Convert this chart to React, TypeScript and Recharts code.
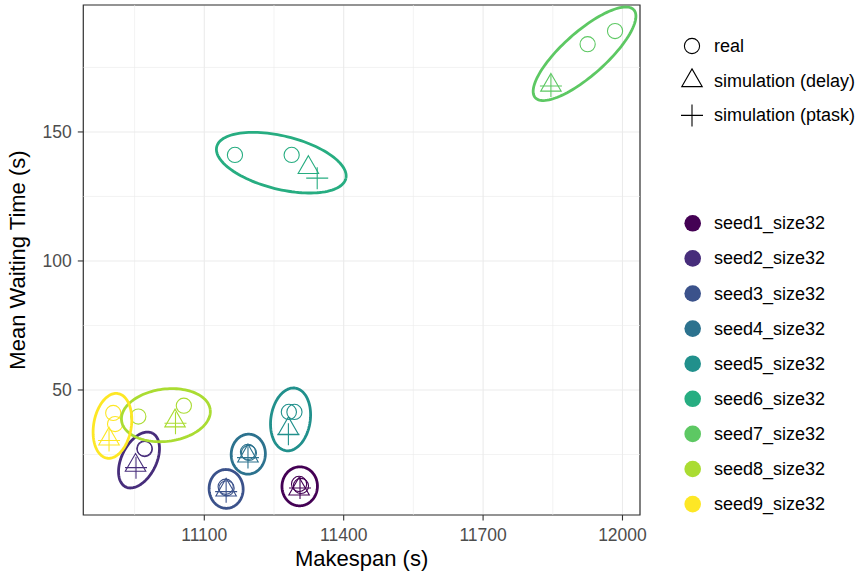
import React from "react";
import { ScatterChart, Scatter, XAxis, YAxis, CartesianGrid, ReferenceLine, ReferenceArea, Label } from "recharts";

// data
const seeds = [
  "seed1_size32", "seed2_size32", "seed3_size32", "seed4_size32", "seed5_size32",
  "seed6_size32", "seed7_size32", "seed8_size32", "seed9_size32",
];
const seedColors = ["#440154", "#472D7B", "#3B528B", "#2C728E", "#21908C", "#27AD81", "#5DC863", "#AADC32", "#FDE725"];

// two real runs per seed
const realMakespanA = [11304, 10972, 11146, 11194, 11282, 11166, 11925, 10958, 10904];
const realWaitA = [13.6, 27.1, 12.5, 26.0, 41.5, 141.1, 184.0, 39.7, 41.1];
const realMakespanB = [11308, 10971, 11148, 11196, 11294, 11288, 11984, 11056, 10908];
const realWaitB = [12.8, 27.3, 11.9, 25.6, 41.5, 141.1, 189.1, 43.9, 36.8];

const delayMakespan = [11304, 10952, 11147, 11194, 11281, 11324, 11846, 11037, 10895];
const delayWait = [11.6, 20.8, 11.2, 24.4, 35.0, 136.2, 168.1, 38.0, 31.0];

const ptaskMakespan = [11306, 10953, 11147, 11194, 11281, 11343, 11846, 11038, 10895];
const ptaskWait = [12.0, 19.9, 10.6, 23.8, 32.8, 132.1, 167.8, 37.1, 30.4];

const xTicks = [11100, 11400, 11700, 12000];
const yTicks = [50, 100, 150];
const xMinor = [10950, 11250, 11550, 11850];
const yMinor = [25, 75, 125, 175];
const shapeLabels = ["real", "simulation (delay)", "simulation (ptask)"];

const X_DOMAIN = [10839.6, 12037.7];
const Y_DOMAIN = [1.55, 199.2];

// layout
const W = 860;
const H = 571;
const PLOT_LEFT = 83.3;
const PLOT_TOP = 5;
const PLOT_RIGHT = 640;
const PLOT_BOTTOM = 515;
const PLOT_W = PLOT_RIGHT - PLOT_LEFT;
const PLOT_H = PLOT_BOTTOM - PLOT_TOP;
const EXPAND = 16.5; // ellipse padding in px, like ggforce's expand
const FONT = "'Liberation Sans', Arial, Helvetica, sans-serif";

const toPx = (x: number, y: number) => [
  PLOT_LEFT + ((x - X_DOMAIN[0]) / (X_DOMAIN[1] - X_DOMAIN[0])) * PLOT_W,
  PLOT_TOP + ((Y_DOMAIN[1] - y) / (Y_DOMAIN[1] - Y_DOMAIN[0])) * PLOT_H,
];
const fromPx = (px: number, py: number) => ({
  x: X_DOMAIN[0] + ((px - PLOT_LEFT) / PLOT_W) * (X_DOMAIN[1] - X_DOMAIN[0]),
  y: Y_DOMAIN[1] - ((py - PLOT_TOP) / PLOT_H) * (Y_DOMAIN[1] - Y_DOMAIN[0]),
});

function inv3(m: number[][]) {
  const [a, b, c] = m[0];
  const [d, e, f] = m[1];
  const [g, h, i] = m[2];
  const A = e * i - f * h, B = -(d * i - f * g), C = d * h - e * g;
  const det = a * A + b * B + c * C || 1e-12;
  return [
    [A / det, -(b * i - c * h) / det, (b * f - c * e) / det],
    [B / det, (a * i - c * g) / det, -(a * f - c * d) / det],
    [C / det, -(a * h - b * g) / det, (a * e - b * d) / det],
  ];
}

// minimum volume enclosing ellipse (Khachiyan), in pixel space
function enclosingEllipse(pts: number[][]) {
  const n = pts.length;
  const mx = pts.reduce((s, p) => s + p[0], 0) / n;
  const my = pts.reduce((s, p) => s + p[1], 0) / n;
  const P = pts.map((p) => [p[0] - mx, p[1] - my]);
  let u = new Array(n).fill(1 / n);
  for (let it = 0; it < 5000; it++) {
    const X = [[0, 0, 0], [0, 0, 0], [0, 0, 0]];
    P.forEach((p, k) => {
      const q = [p[0], p[1], 1];
      for (let a = 0; a < 3; a++) for (let b = 0; b < 3; b++) X[a][b] += u[k] * q[a] * q[b];
    });
    for (let a = 0; a < 2; a++) X[a][a] += 1e-9;
    const Xi = inv3(X);
    let maxM = -Infinity;
    let j = 0;
    P.forEach((p, k) => {
      const q = [p[0], p[1], 1];
      let M = 0;
      for (let a = 0; a < 3; a++) for (let b = 0; b < 3; b++) M += q[a] * Xi[a][b] * q[b];
      if (M > maxM) { maxM = M; j = k; }
    });
    const step = (maxM - 3) / (3 * (maxM - 1));
    if (!(step > 1e-7)) break;
    u = u.map((v) => v * (1 - step));
    u[j] += step;
  }
  const cx = P.reduce((s, p, k) => s + u[k] * p[0], 0);
  const cy = P.reduce((s, p, k) => s + u[k] * p[1], 0);
  let sxx = 0, syy = 0, sxy = 0;
  P.forEach((p, k) => {
    sxx += u[k] * (p[0] - cx) * (p[0] - cx);
    syy += u[k] * (p[1] - cy) * (p[1] - cy);
    sxy += u[k] * (p[0] - cx) * (p[1] - cy);
  });
  const tr = (sxx + syy) / 2;
  const disc = Math.sqrt(((sxx - syy) / 2) ** 2 + sxy * sxy);
  const l1 = tr + disc;
  const l2 = Math.max(tr - disc, 0);
  const theta = 0.5 * Math.atan2(2 * sxy, sxx - syy);
  return { cx: cx + mx, cy: cy + my, a: Math.sqrt(2 * l1), b: Math.sqrt(2 * l2), theta };
}

const realPoints = seeds.flatMap((s, i) => [
  { x: realMakespanA[i], y: realWaitA[i], color: seedColors[i] },
  { x: realMakespanB[i], y: realWaitB[i], color: seedColors[i] },
]);
const delayPoints = seeds.map((s, i) => ({ x: delayMakespan[i], y: delayWait[i], color: seedColors[i] }));
const ptaskPoints = seeds.map((s, i) => ({ x: ptaskMakespan[i], y: ptaskWait[i], color: seedColors[i] }));

const ellipses = seeds.map((s, i) => {
  const pts = [
    toPx(realMakespanA[i], realWaitA[i]),
    toPx(realMakespanB[i], realWaitB[i]),
    toPx(delayMakespan[i], delayWait[i]),
    toPx(ptaskMakespan[i], ptaskWait[i]),
  ];
  const e = enclosingEllipse(pts);
  const ra = e.a + EXPAND;
  const rb = e.b + EXPAND;
  const out = [];
  for (let k = 0; k <= 120; k++) {
    const t = (2 * Math.PI * k) / 120;
    const ex = ra * Math.cos(t);
    const ey = rb * Math.sin(t);
    out.push(fromPx(
      e.cx + ex * Math.cos(e.theta) - ey * Math.sin(e.theta),
      e.cy + ex * Math.sin(e.theta) + ey * Math.cos(e.theta),
    ));
  }
  return out;
});

const TRI = 20.5;
const PLUS = 11;

function circlePath(cx: number, cy: number, color: string) {
  return <circle cx={cx} cy={cy} r={7.6} fill="none" stroke={color} strokeWidth={1.1} />;
}
function trianglePath(cx: number, cy: number, color: string) {
  const h = (TRI * Math.sqrt(3)) / 2;
  const d = `M${cx},${cy - (2 * h) / 3}L${cx + TRI / 2},${cy + h / 3}L${cx - TRI / 2},${cy + h / 3}Z`;
  return <path d={d} fill="none" stroke={color} strokeWidth={1.1} />;
}
function plusPath(cx: number, cy: number, color: string) {
  const d = `M${cx - PLUS},${cy}H${cx + PLUS}M${cx},${cy - PLUS}V${cy + PLUS}`;
  return <path d={d} fill="none" stroke={color} strokeWidth={1.1} />;
}

const CircleShape = (p: any) => circlePath(p.cx, p.cy, p.payload.color);
const TriangleShape = (p: any) => trianglePath(p.cx, p.cy, p.payload.color);
const PlusShape = (p: any) => plusPath(p.cx, p.cy, p.payload.color);
const NoShape = () => <g />;

function Legends() {
  const shapeFns = [circlePath, trianglePath, plusPath];
  return (
    <svg width={W} height={H} style={{ position: "absolute", left: 0, top: 0, pointerEvents: "none" }}>
      {shapeLabels.map((label, i) => (
        <g key={label}>
          {shapeFns[i](692, 46 + i * 34.7, "#000")}
          <text x={714} y={46 + i * 34.7} dominantBaseline="central" fontSize={18} fontFamily={FONT} fill="#000">
            {label}
          </text>
        </g>
      ))}
      {seeds.map((s, i) => (
        <g key={s}>
          <circle cx={692.7} cy={223.3 + i * 35.1} r={8.3} fill={seedColors[i]} />
          <text x={714} y={223.3 + i * 35.1} dominantBaseline="central" fontSize={18} fontFamily={FONT} fill="#000">
            {s}
          </text>
        </g>
      ))}
    </svg>
  );
}

export default function App() {
  return (
    <div style={{ position: "absolute", left: 0, top: 0, width: W, height: H, fontFamily: FONT, background: "#fff" }}>
      <ScatterChart
        width={W}
        height={H}
        margin={{ top: PLOT_TOP, right: W - PLOT_RIGHT, bottom: 0, left: 0 }}
        style={{ fontFamily: FONT }}
      >
        <CartesianGrid stroke="#ebebeb" strokeWidth={1.1} />
        {xMinor.map((v) => (
          <ReferenceLine key={"x" + v} x={v} stroke="#ebebeb" strokeWidth={0.6} />
        ))}
        {yMinor.map((v) => (
          <ReferenceLine key={"y" + v} y={v} stroke="#ebebeb" strokeWidth={0.6} />
        ))}
        <XAxis
          type="number"
          dataKey="x"
          domain={X_DOMAIN}
          ticks={xTicks}
          allowDataOverflow
          height={H - PLOT_BOTTOM}
          axisLine={false}
          tickLine={{ stroke: "#333", strokeWidth: 1.1 }}
          tickSize={5.5}
          tickMargin={8.5}
          tick={{ fontSize: 17.5, fill: "#4d4d4d" }}
        >
          <Label value="Makespan (s)" position="insideBottom" offset={5.5} style={{ fontSize: 22, fill: "#000" }} />
        </XAxis>
        <YAxis
          type="number"
          dataKey="y"
          domain={Y_DOMAIN}
          ticks={yTicks}
          allowDataOverflow
          width={PLOT_LEFT}
          axisLine={false}
          tickLine={{ stroke: "#333", strokeWidth: 1.1 }}
          tickSize={5.5}
          tickMargin={6}
          tick={{ fontSize: 17.5, fill: "#4d4d4d" }}
        >
          <Label
            value="Mean Waiting Time (s)"
            angle={-90}
            position="insideLeft"
            offset={17}
            style={{ fontSize: 22, fill: "#000", textAnchor: "middle" }}
          />
        </YAxis>
        <Scatter data={realPoints} shape={CircleShape} isAnimationActive={false} />
        <Scatter data={delayPoints} shape={TriangleShape} isAnimationActive={false} />
        <Scatter data={ptaskPoints} shape={PlusShape} isAnimationActive={false} />
        {ellipses.map((pts, i) => (
          <Scatter
            key={seeds[i]}
            data={pts}
            shape={NoShape}
            line={{ stroke: seedColors[i], strokeWidth: 2.8 }}
            lineJointType="linear"
            isAnimationActive={false}
          />
        ))}
        <ReferenceArea
          x1={X_DOMAIN[0]}
          x2={X_DOMAIN[1]}
          y1={Y_DOMAIN[0]}
          y2={Y_DOMAIN[1]}
          fill="none"
          fillOpacity={0}
          stroke="#333"
          strokeWidth={1.2}
        />
      </ScatterChart>
      <Legends />
    </div>
  );
}
